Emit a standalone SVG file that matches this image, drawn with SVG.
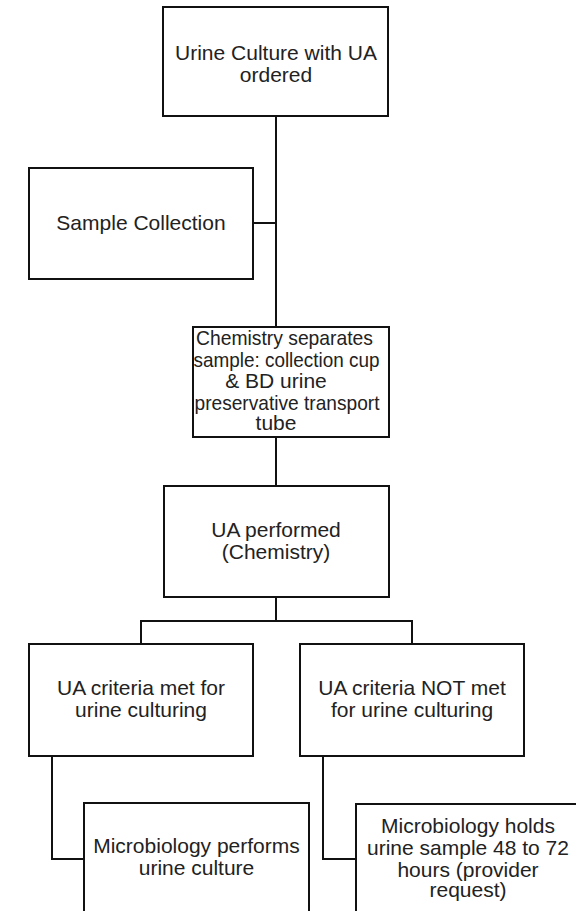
<svg xmlns="http://www.w3.org/2000/svg" width="576" height="911" viewBox="0 0 576 911">
<style>
.box{fill:#fff;stroke:#111;stroke-width:2}
.conn{fill:none;stroke:#111;stroke-width:2}
text{font-family:"Liberation Sans",Arial,sans-serif;font-size:21px;fill:#222;text-anchor:middle}
</style>
<rect width="576" height="911" fill="#fff"/>
<g id="connectors">
<path class="conn" d="M276 116 V327"/>
<path class="conn" d="M253 223 H276"/>
<path class="conn" d="M276 437 V486"/>
<path class="conn" d="M276 597 V621 M141 644 V621 H412 V644"/>
<path class="conn" d="M52 756 V859 H84"/>
<path class="conn" d="M323 756 V859 H356"/>
</g>
<g id="n1">
<rect class="box" x="163" y="7" width="225" height="109"/>
<text x="276" y="60">Urine Culture with UA</text>
<text x="276" y="82">ordered</text>
</g>
<g id="n2">
<rect class="box" x="29" y="168" width="224" height="111"/>
<text x="141" y="230">Sample Collection</text>
</g>
<g id="n3">
<rect class="box" x="193" y="327" width="196" height="110"/>
<text x="284.5" y="345" textLength="177" lengthAdjust="spacingAndGlyphs">Chemistry separates</text>
<text x="286.5" y="367" textLength="186" lengthAdjust="spacingAndGlyphs">sample:  collection cup</text>
<text x="276" y="388">&amp; BD urine</text>
<text x="287" y="410" textLength="185" lengthAdjust="spacingAndGlyphs">preservative transport</text>
<text x="276" y="430">tube</text>
</g>
<g id="n4">
<rect class="box" x="164" y="486" width="225" height="111"/>
<text x="276" y="537">UA performed</text>
<text x="276" y="559">(Chemistry)</text>
</g>
<g id="n5">
<rect class="box" x="29" y="644" width="224" height="112"/>
<text x="141" y="695">UA criteria met for</text>
<text x="141" y="717">urine culturing</text>
</g>
<g id="n6">
<rect class="box" x="300" y="644" width="224" height="112"/>
<text x="412" y="695">UA criteria NOT met</text>
<text x="412" y="717">for urine culturing</text>
</g>
<g id="n7">
<rect class="box" x="84" y="803" width="225" height="120"/>
<text x="196.5" y="853">Microbiology performs</text>
<text x="196.5" y="875">urine culture</text>
</g>
<g id="n8">
<rect class="box" x="356" y="804" width="224" height="120"/>
<text x="468" y="833">Microbiology holds</text>
<text x="468" y="855">urine sample 48 to 72</text>
<text x="468" y="877">hours (provider</text>
<text x="468" y="897">request)</text>
</g>
</svg>
